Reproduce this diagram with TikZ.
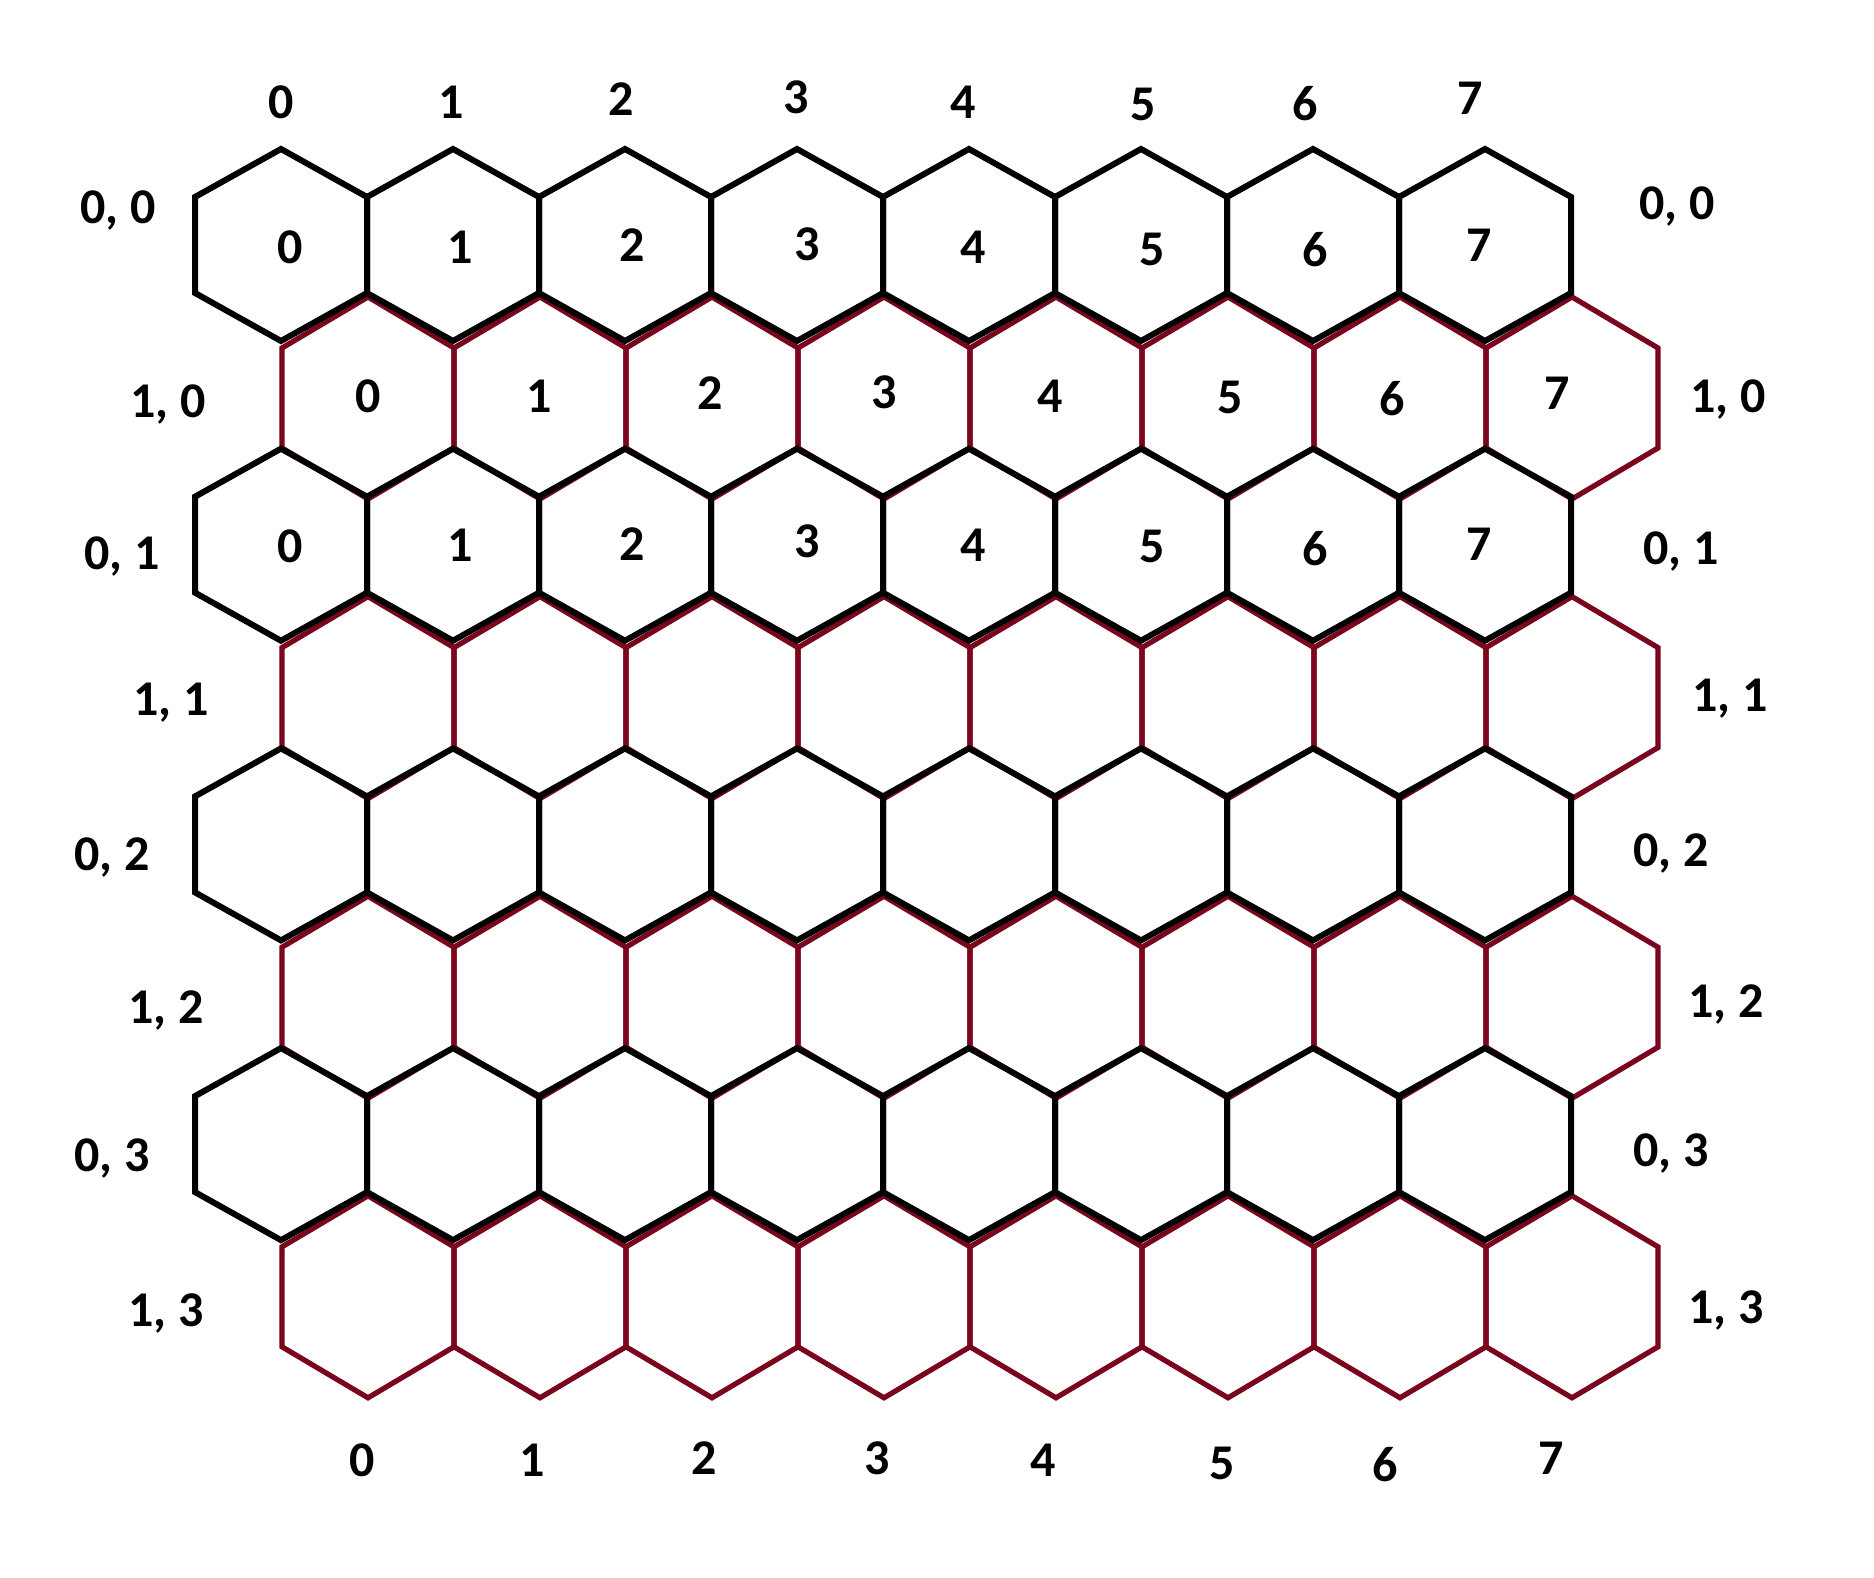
\documentclass[tikz,border=0pt]{standalone}
\usepackage{fontspec}
\setmainfont{Carlito}
\definecolor{hexred}{RGB}{122,6,30}
\begin{document}
\begin{tikzpicture}[x=0.4pt,y=-0.4pt,
  blackhex/.style={draw=black, line width=2.4pt, line join=miter},
  redhex/.style={draw=hexred, line width=2.1pt, line join=miter},
  lbl/.style={font=\fontsize{20}{24}\selectfont\bfseries, inner sep=0pt, text=black}]
\fill[white] (0,0) rectangle (1874,1578);
\useasboundingbox (0,0) rectangle (1874,1578);
% red rows (1, k)
\foreach \k in {0,...,3}{
  \foreach \c in {0,...,7}{
    \pgfmathsetmacro\cx{368+172*\c}
    \pgfmathsetmacro\cy{398+299.6*\k}
    \draw[redhex] (\cx,\cy-101) -- (\cx+86,\cy-50) -- (\cx+86,\cy+50) -- (\cx,\cy+101)
      -- (\cx-86,\cy+50) -- (\cx-86,\cy-50) -- cycle;
  }
}
% black rows (0, k)
\foreach \k in {0,...,3}{
  \foreach \c in {0,...,7}{
    \pgfmathsetmacro\cx{281+172*\c}
    \pgfmathsetmacro\cy{245+299.7*\k}
    \draw[blackhex] (\cx,\cy-96) -- (\cx+86,\cy-48) -- (\cx+86,\cy+48) -- (\cx,\cy+96)
      -- (\cx-86,\cy+48) -- (\cx-86,\cy-48) -- cycle;
  }
}
% column labels, top
\foreach \c/\x/\y in {0/281/102,1/451/102,2/621/99,3/796/97,4/963/102,5/1143/104,6/1305/104,7/1470/98}
  \node[lbl] (top\c) at (\x,\y) {\c};
% column labels, bottom
\foreach \c/\x/\y in {0/362/1460,1/532/1460,2/704/1458,3/877/1458,4/1043/1460,5/1222/1463,6/1385/1465,7/1551/1458}
  \node[lbl] (bot\c) at (\x,\y) {\c};
% numbers inside hexes
\foreach \c/\x/\y in {0/290/247,1/460/247,2/632/245,3/807/244,4/973/247,5/1152/249,6/1315/250,7/1479/245}
  \node[lbl] (inA\c) at (\x,\y) {\c};
\foreach \c/\x/\y in {0/368/396,1/539/396,2/710/393,3/884/392,4/1050/396,5/1230/397,6/1392/399,7/1557/393}
  \node[lbl] (inB\c) at (\x,\y) {\c};
\foreach \c/\x/\y in {0/290/546,1/460/545,2/632/544,3/807/541,4/973/545,5/1152/546,6/1315/549,7/1479/544}
  \node[lbl] (inC\c) at (\x,\y) {\c};
% row labels, left
\foreach \n/\t/\x/\y in {a/{0, 0}/118/210,b/{1, 0}/168/404,c/{0, 1}/122/556,d/{1, 1}/171/703,e/{0, 2}/112/857,f/{1, 2}/166/1010,g/{0, 3}/112/1158,h/{1, 3}/166/1313}
  \node[lbl] (left\n) at (\x,\y) {\t};
% row labels, right
\foreach \n/\t/\x/\y in {a/{0, 0}/1677/206,b/{1, 0}/1728/399,c/{0, 1}/1681/551,d/{1, 1}/1730/699,e/{0, 2}/1671/853,f/{1, 2}/1726/1004,g/{0, 3}/1671/1153,h/{1, 3}/1726/1310}
  \node[lbl] (right\n) at (\x,\y) {\t};
\end{tikzpicture}
\end{document}
